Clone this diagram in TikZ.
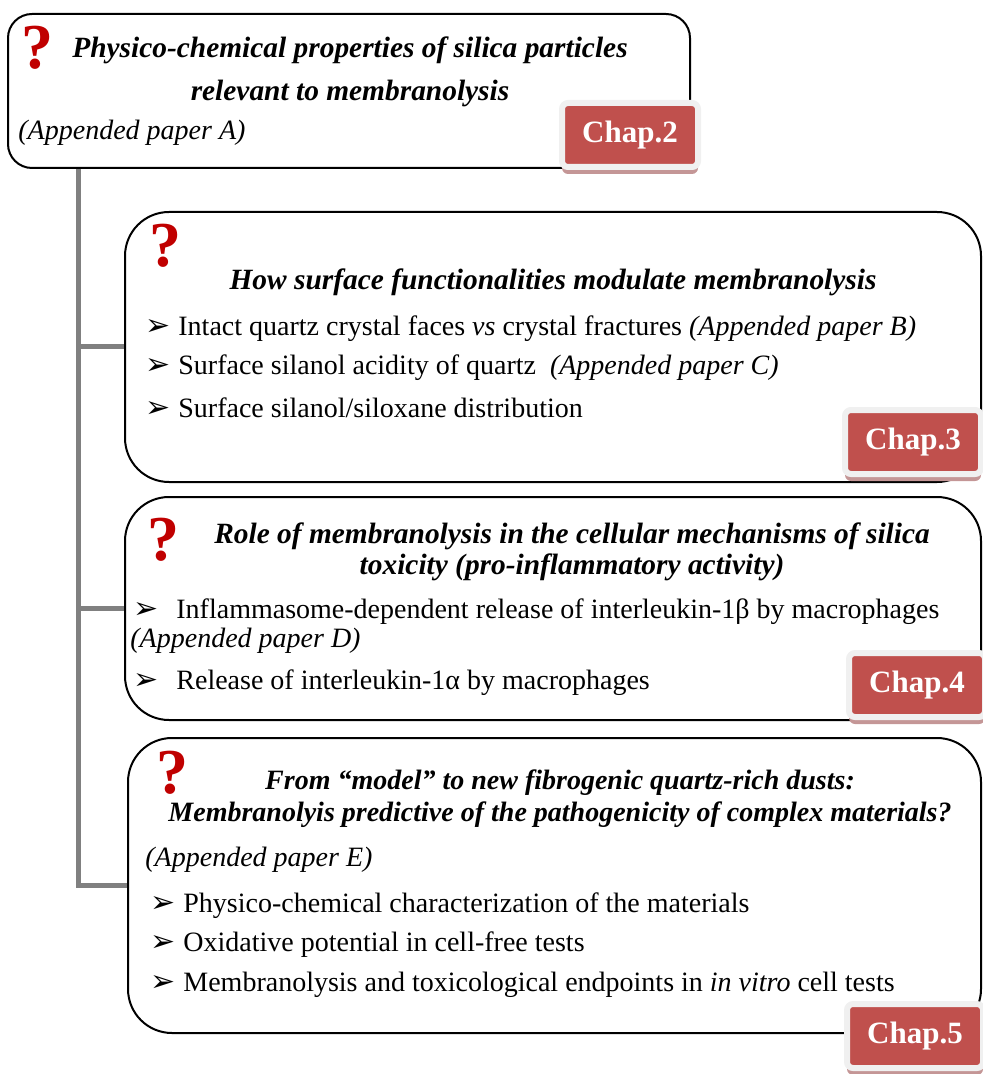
\documentclass[tikz,border=0pt]{standalone}
\usepackage{fontspec}
\setmainfont{Liberation Serif}
\newfontfamily\dingfont{DejaVu Sans}
\usetikzlibrary{shadows}
\definecolor{chapred}{RGB}{192,80,77}
\definecolor{qred}{RGB}{192,0,0}
\definecolor{chapshade}{RGB}{196,150,150}
\definecolor{trunkgray}{RGB}{128,128,128}
\newcommand{\arrowbullet}[1][16.5pt]{\makebox[#1][l]{\dingfont\fontsize{15}{15}\selectfont ➢}}

\begin{document}
\begin{tikzpicture}[x=0.5pt,y=0.5pt,
  qbox/.style={draw,line width=1pt,rounded corners=22pt,inner sep=0pt,minimum width=428pt},
  chapbox/.style={fill=chapred,draw=black!6,line width=3pt,rounded corners=3pt,text=white,
    font=\fontsize{15.5}{15.5}\selectfont\bfseries,minimum width=68pt,minimum height=32pt,
    drop shadow={shadow xshift=0pt,shadow yshift=-3.5pt,fill=chapshade,opacity=1}},
  qmark/.style={text=qred,font=\fontsize{32}{32}\selectfont\bfseries,inner sep=0pt},
  title/.style={align=center,font=\fontsize{14.7}{15.7}\selectfont\bfseries\itshape,inner sep=0pt},
  item/.style={anchor=west,font=\fontsize{14}{16}\selectfont,inner sep=0pt},
  branch/.style={draw=trunkgray,line width=2.5pt}]
\useasboundingbox (0,0) rectangle (983,-1074);
\node[qbox,rounded corners=12pt,minimum width=341pt,minimum height=77pt] (boxA) at (349,-91) {};
\node[qbox,minimum height=135pt] (boxB) at (553,-347) {};
\node[qbox,minimum height=111.5pt] (boxC) at (553,-608.5) {};
\node[qbox,minimum width=426.5pt,minimum height=147.5pt] (boxD) at (554.5,-885.5) {};
\coordinate (trunk) at (78,0);
\draw[branch] (boxA.south -| trunk) |- (boxD.west);
\draw[branch] (trunk |- boxB.west) -- (boxB.west);
\draw[branch] (trunk |- boxC.west) -- (boxC.west);
\node[qmark] (qA) at (37,-48) {?};
\node[title,font=\fontsize{14.7}{21.5}\selectfont\bfseries\itshape] (titleA) at (350,-72)
  {Physico-chemical properties of silica particles\\relevant to membranolysis};
\node[item,font=\fontsize{14}{16}\selectfont\itshape] (paperA) at (18,-133) {(Appended paper A)};
\node[chapbox] (chapA) at (630,-135) {Chap.2};
\node[qmark] (qB) at (165,-246) {?};
\node[title] (titleB) at (553,-282) {How surface functionalities modulate membranolysis};
\node[item] (itemB1) at (145,-329) {\arrowbullet Intact quartz crystal faces \textit{vs} crystal fractures \textit{(Appended paper B)}};
\node[item] (itemB2) at (145,-368) {\arrowbullet Surface silanol acidity of quartz \ \textit{(Appended paper C)}};
\node[item] (itemB3) at (145,-408) {\arrowbullet Surface silanol/siloxane distribution};
\node[chapbox] (chapB) at (913,-442) {Chap.3};
\node[qmark] (qC) at (163,-540) {?};
\node[title] (titleC) at (572,-552)
  {Role of membranolysis in the cellular mechanisms of silica\\toxicity (pro-inflammatory activity)};
\node[item] (itemC1) at (133,-612) {\arrowbullet[21.5pt]Inflammasome-dependent release of interleukin-1β by macrophages};
\node[item,font=\fontsize{14}{16}\selectfont\itshape] (paperC) at (130,-641) {(Appended paper D)};
\node[item] (itemC2) at (133,-683) {\arrowbullet[21.5pt]Release of interleukin-1α by macrophages};
\node[chapbox] (chapC) at (917,-685) {Chap.4};
\node[qmark] (qD) at (172,-773) {?};
\node[title,font=\fontsize{14}{16}\selectfont\bfseries\itshape] (titleD) at (560,-799)
  {From “model” to new fibrogenic quartz-rich dusts:\\Membranolyis predictive of the pathogenicity of complex materials?};
\node[item,font=\fontsize{14}{16}\selectfont\itshape] (paperD) at (145,-860) {(Appended paper E)};
\node[item] (itemD1) at (150,-906) {\arrowbullet Physico-chemical characterization of the materials};
\node[item] (itemD2) at (150,-945) {\arrowbullet Oxidative potential in cell-free tests};
\node[item] (itemD3) at (150,-985) {\arrowbullet Membranolysis and toxicological endpoints in \textit{in vitro} cell tests};
\node[chapbox] (chapD) at (915,-1036) {Chap.5};
\end{tikzpicture}
\end{document}
